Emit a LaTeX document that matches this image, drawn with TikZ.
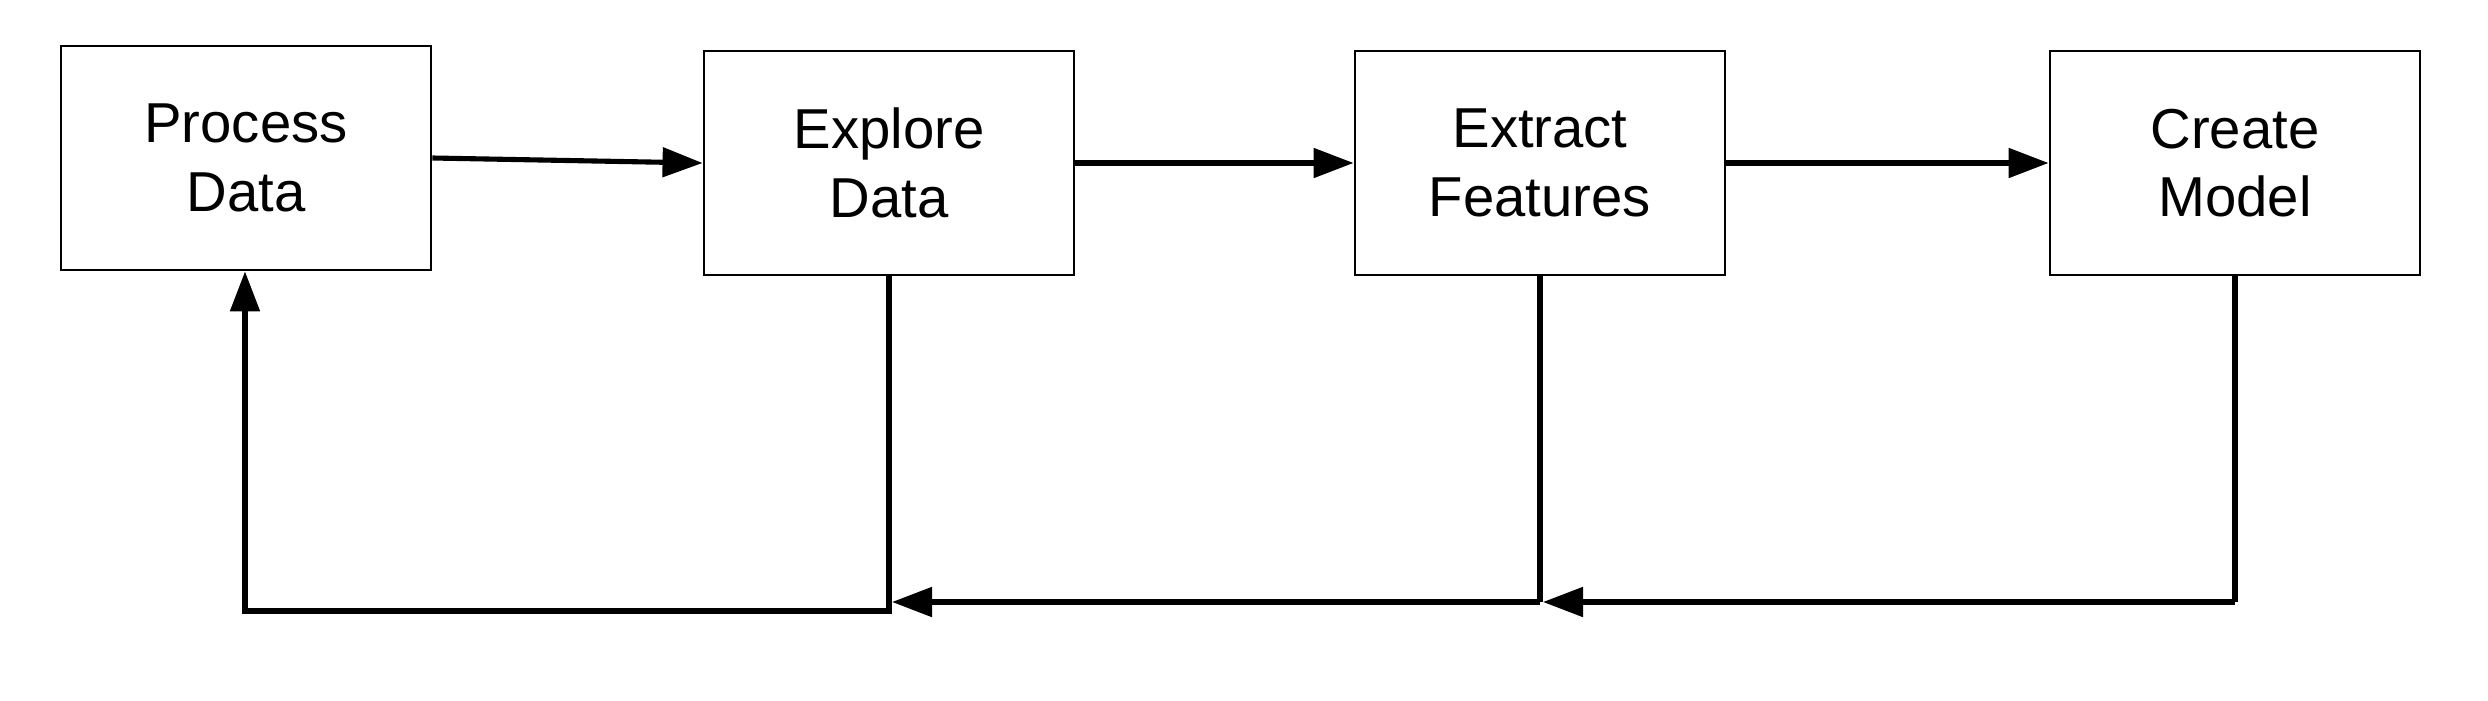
\documentclass[tikz,border=0pt]{standalone}
\usepackage{fontspec}
\setmainfont{Liberation Sans}
\usetikzlibrary{arrows.meta}
\begin{document}
\begin{tikzpicture}[x=0.01cm,y=-0.01cm,
  stage/.style={draw=black,line width=0.75pt,minimum width=3.7cm,minimum height=2.24cm,
    inner sep=0pt,align=center,font=\fontsize{16}{19.5}\selectfont},
  flow/.style={line width=1.45pt,-{Triangle[length=0.40cm,width=0.29cm]}},
  plain/.style={line width=1.45pt}]
\useasboundingbox (0,0) rectangle (2488,700);
\node[stage] (pd) at (246,158) {Process\\Data};
\node[stage] (ed) at (889,163) {Explore\\Data};
\node[stage] (ef) at (1540,163) {Extract\\Features};
\node[stage] (cm) at (2235,163) {Create\\Model};
\draw[flow] (pd.east) -- (ed.west);
\draw[flow] (ed.east) -- (ef.west);
\draw[flow] (ef.east) -- (cm.west);
\coordinate (c1) at (2235,602);
\coordinate (t1) at (1543,602);
\coordinate (c2) at (1540,602);
\coordinate (t2) at (892,602);
\coordinate (c3) at (889,611);
\coordinate (c4) at (245,611);
\draw[plain] (cm.south) -- (c1);
\draw[flow] (c1) -- (t1);
\draw[plain] (ef.south) -- (c2);
\draw[flow] (c2) -- (t2);
\draw[flow] (ed.south) -- (c3) -- (c4) -- (pd.south -| c4);
\end{tikzpicture}
\end{document}
